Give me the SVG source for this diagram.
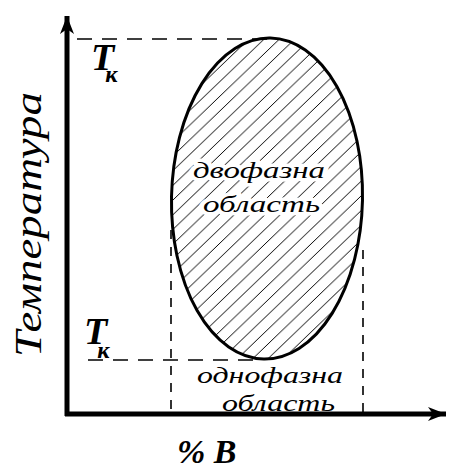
<svg xmlns="http://www.w3.org/2000/svg" width="450" height="464" viewBox="0 0 450 464">
<defs>
<style>
.dash{stroke:#000;stroke-width:1.6;fill:none;stroke-dasharray:15 10}
.vdash{stroke:#000;stroke-width:1.6;fill:none;stroke-dasharray:9 8}
.axis{stroke:#000;stroke-width:5;fill:none}
.tk{font-family:"Liberation Serif",serif;font-style:italic;font-weight:bold;fill:#000}
.lbl{font-family:"Liberation Serif",serif;font-style:italic;font-size:23px;fill:#000}
.mask{stroke:#fff;stroke-width:7;paint-order:stroke;stroke-linejoin:round}
</style>
<pattern id="hatch" patternUnits="userSpaceOnUse" width="15" height="15">
<path d="M-2,17 L17,-2 M-2,2 L2,-2 M13,17 L17,13" stroke="#000" stroke-width="1"/>
</pattern>
<marker id="arr" markerWidth="20" markerHeight="16" refX="18" refY="8" orient="auto" markerUnits="userSpaceOnUse">
<path d="M0,1 L18,8 L0,15 L5,8 Z" fill="#000"/>
</marker>
</defs>
<g id="connectors">
<line class="dash" x1="77" y1="39" x2="270" y2="39"/>
<line class="dash" x1="88" y1="360" x2="262" y2="360"/>
<line class="vdash" x1="171" y1="230" x2="171" y2="412"/>
<line class="vdash" x1="363" y1="250" x2="363" y2="412"/>
<line class="axis" x1="67" y1="416" x2="67" y2="16" marker-end="url(#arr)"/>
<line class="axis" x1="65" y1="414" x2="446" y2="414" marker-end="url(#arr)"/>
</g>
<g id="region">
<ellipse cx="267" cy="198.5" rx="95.5" ry="160.5" transform="rotate(1.2 267 198.5)" fill="url(#hatch)" stroke="#000" stroke-width="3"/>
</g>
<g id="labels">
<text class="lbl mask" x="193" y="178" textLength="132" lengthAdjust="spacingAndGlyphs">двофазна</text>
<text class="lbl mask" x="203" y="212" textLength="117" lengthAdjust="spacingAndGlyphs">область</text>
<text class="lbl" x="197" y="383" textLength="146" lengthAdjust="spacingAndGlyphs">однофазна</text>
<text class="lbl" x="222" y="411" textLength="113" lengthAdjust="spacingAndGlyphs">область</text>
</g>
<g id="tk-top">
<text class="tk" x="91" y="70" font-size="38">T<tspan font-size="24" dx="-9" dy="12">к</tspan></text>
</g>
<g id="tk-bottom">
<text class="tk" x="84" y="344" font-size="38">T<tspan font-size="24" dx="-10" dy="14">к</tspan></text>
</g>
<g id="y-label">
<text font-family="'Liberation Serif',serif" font-style="italic" font-size="38" transform="translate(41 357) rotate(-90)" textLength="265" lengthAdjust="spacingAndGlyphs">Температура</text>
</g>
<g id="x-label">
<text class="tk" x="177" y="463" font-size="34">% B</text>
</g>
</svg>
